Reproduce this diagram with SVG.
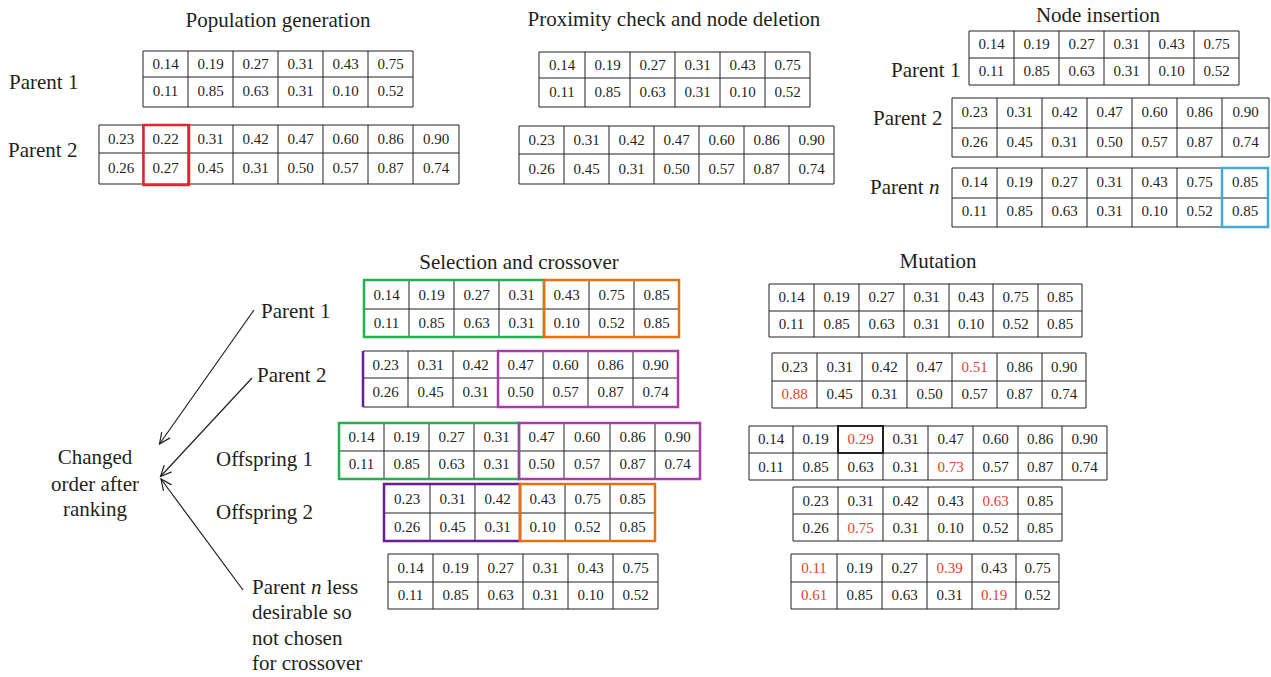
<svg xmlns="http://www.w3.org/2000/svg" width="1271" height="677" viewBox="0 0 1271 677">
<defs>
<style>
.g{fill:none;stroke:#231f20;stroke-width:1}
.t text{font-family:"Liberation Serif",serif;font-size:15px;fill:#231f20;text-anchor:middle}
text.r,.t text.r{fill:#e63c2e}
.lbl{font-family:"Liberation Serif",serif;font-size:21px;fill:#231f20}
.ttl{font-family:"Liberation Serif",serif;font-size:21px;fill:#231f20;text-anchor:middle}
.hl{fill:none;stroke-width:2.5}
.conn{fill:none;stroke:#231f20;stroke-width:1.2}
</style>
<marker id="ah" markerWidth="14" markerHeight="12" refX="12" refY="6" orient="auto" markerUnits="userSpaceOnUse">
<path d="M1,1 L12,6 L1,11" fill="none" stroke="#231f20" stroke-width="1.2"/>
</marker>
</defs>
<rect width="1271" height="677" fill="#fff"/>

<text class="ttl" x="278" y="27">Population generation</text>
<text class="ttl" x="674" y="26">Proximity check and node deletion</text>
<text class="ttl" x="1098" y="22">Node insertion</text>
<text class="ttl" x="519" y="269">Selection and crossover</text>
<text class="ttl" x="938" y="268">Mutation</text>

<text class="lbl" x="9" y="89">Parent 1</text>
<text class="lbl" x="8" y="157">Parent 2</text>
<text class="lbl" x="891" y="77">Parent 1</text>
<text class="lbl" x="873" y="125">Parent 2</text>
<text class="lbl" x="870" y="194">Parent <tspan font-style="italic">n</tspan></text>
<text class="lbl" x="261" y="318">Parent 1</text>
<text class="lbl" x="257" y="382">Parent 2</text>
<text class="lbl" x="216" y="466">Offspring 1</text>
<text class="lbl" x="216" y="519">Offspring 2</text>
<text class="lbl" x="252" y="594">Parent <tspan font-style="italic">n</tspan> less</text>
<text class="lbl" x="252" y="619">desirable so</text>
<text class="lbl" x="252" y="645">not chosen</text>
<text class="lbl" x="252" y="670">for crossover</text>
<text class="lbl" x="95" y="464" text-anchor="middle">Changed</text>
<text class="lbl" x="95" y="491" text-anchor="middle">order after</text>
<text class="lbl" x="95" y="516" text-anchor="middle">ranking</text>

<g id="pop-p1" class="t">
<path class="g" d="M143,51H413V107H143Z M143,77H413 M188,51V107 M233,51V107 M278,51V107 M323,51V107 M368,51V107"/>
<text x="165.5" y="69">0.14</text><text x="210.5" y="69">0.19</text><text x="255.5" y="69">0.27</text><text x="300.5" y="69">0.31</text><text x="345.5" y="69">0.43</text><text x="390.5" y="69">0.75</text>
<text x="165.5" y="96">0.11</text><text x="210.5" y="96">0.85</text><text x="255.5" y="96">0.63</text><text x="300.5" y="96">0.31</text><text x="345.5" y="96">0.10</text><text x="390.5" y="96">0.52</text>
</g>
<g id="pop-p2" class="t">
<path class="g" d="M99,125H459V184H99Z M99,153H459 M143,125V184 M188,125V184 M233,125V184 M278,125V184 M323,125V184 M368,125V184 M413,125V184"/>
<text x="121" y="144">0.23</text><text x="165.5" y="144">0.22</text><text x="210.5" y="144">0.31</text><text x="255.5" y="144">0.42</text><text x="300.5" y="144">0.47</text><text x="345.5" y="144">0.60</text><text x="390.5" y="144">0.86</text><text x="436" y="144">0.90</text>
<text x="121" y="173">0.26</text><text x="165.5" y="173">0.27</text><text x="210.5" y="173">0.45</text><text x="255.5" y="173">0.31</text><text x="300.5" y="173">0.50</text><text x="345.5" y="173">0.57</text><text x="390.5" y="173">0.87</text><text x="436" y="173">0.74</text>
<rect class="hl" x="143.5" y="125" width="45.5" height="60" stroke="#e0282c"/>
</g>

<g id="prox-p1" class="t">
<path class="g" d="M539,52H810V107H539Z M539,78H810 M585,52V107 M630,52V107 M675,52V107 M720,52V107 M765,52V107"/>
<text x="562" y="70">0.14</text><text x="607.5" y="70">0.19</text><text x="652.5" y="70">0.27</text><text x="697.5" y="70">0.31</text><text x="742.5" y="70">0.43</text><text x="787.5" y="70">0.75</text>
<text x="562" y="97">0.11</text><text x="607.5" y="97">0.85</text><text x="652.5" y="97">0.63</text><text x="697.5" y="97">0.31</text><text x="742.5" y="97">0.10</text><text x="787.5" y="97">0.52</text>
</g>
<g id="prox-p2" class="t">
<path class="g" d="M519,126H834V184H519Z M519,154H834 M564,126V184 M609,126V184 M654,126V184 M699,126V184 M744,126V184 M789,126V184"/>
<text x="541.5" y="145">0.23</text><text x="586.5" y="145">0.31</text><text x="631.5" y="145">0.42</text><text x="676.5" y="145">0.47</text><text x="721.5" y="145">0.60</text><text x="766.5" y="145">0.86</text><text x="811.5" y="145">0.90</text>
<text x="541.5" y="174">0.26</text><text x="586.5" y="174">0.45</text><text x="631.5" y="174">0.31</text><text x="676.5" y="174">0.50</text><text x="721.5" y="174">0.57</text><text x="766.5" y="174">0.87</text><text x="811.5" y="174">0.74</text>
</g>

<g id="ins-p1" class="t">
<path class="g" d="M969,31H1239V85H969Z M969,58H1239 M1014,31V85 M1059,31V85 M1104,31V85 M1149,31V85 M1194,31V85"/>
<text x="991.5" y="49">0.14</text><text x="1036.5" y="49">0.19</text><text x="1081.5" y="49">0.27</text><text x="1126.5" y="49">0.31</text><text x="1171.5" y="49">0.43</text><text x="1216.5" y="49">0.75</text>
<text x="991.5" y="76">0.11</text><text x="1036.5" y="76">0.85</text><text x="1081.5" y="76">0.63</text><text x="1126.5" y="76">0.31</text><text x="1171.5" y="76">0.10</text><text x="1216.5" y="76">0.52</text>
</g>
<g id="ins-p2" class="t">
<path class="g" d="M952,98H1269V157H952Z M952,128H1269 M997,98V157 M1042,98V157 M1087,98V157 M1132,98V157 M1177,98V157 M1222,98V157"/>
<text x="974.5" y="117">0.23</text><text x="1019.5" y="117">0.31</text><text x="1064.5" y="117">0.42</text><text x="1109.5" y="117">0.47</text><text x="1154.5" y="117">0.60</text><text x="1199.5" y="117">0.86</text><text x="1245.5" y="117">0.90</text>
<text x="974.5" y="147">0.26</text><text x="1019.5" y="147">0.45</text><text x="1064.5" y="147">0.31</text><text x="1109.5" y="147">0.50</text><text x="1154.5" y="147">0.57</text><text x="1199.5" y="147">0.87</text><text x="1245.5" y="147">0.74</text>
</g>
<g id="ins-pn" class="t">
<path class="g" d="M952,168H1268V227H952Z M952,198H1268 M997,168V227 M1042,168V227 M1087,168V227 M1132,168V227 M1177,168V227 M1222,168V227"/>
<text x="974.5" y="187">0.14</text><text x="1019.5" y="187">0.19</text><text x="1064.5" y="187">0.27</text><text x="1109.5" y="187">0.31</text><text x="1154.5" y="187">0.43</text><text x="1199.5" y="187">0.75</text><text x="1245" y="187">0.85</text>
<text x="974.5" y="216">0.11</text><text x="1019.5" y="216">0.85</text><text x="1064.5" y="216">0.63</text><text x="1109.5" y="216">0.31</text><text x="1154.5" y="216">0.10</text><text x="1199.5" y="216">0.52</text><text x="1245" y="216">0.85</text>
<rect class="hl" x="1222" y="168" width="46" height="59" stroke="#45a9d6"/>
</g>

<g id="sel-p1" class="t">
<path class="g" d="M364,280H679V337H364Z M364,309H679 M409,280V337 M454,280V337 M499,280V337 M544,280V337 M589,280V337 M634,280V337"/>
<text x="386.5" y="300">0.14</text><text x="431.5" y="300">0.19</text><text x="476.5" y="300">0.27</text><text x="521.5" y="300">0.31</text><text x="566.5" y="300">0.43</text><text x="611.5" y="300">0.75</text><text x="656.5" y="300">0.85</text>
<text x="386.5" y="328">0.11</text><text x="431.5" y="328">0.85</text><text x="476.5" y="328">0.63</text><text x="521.5" y="328">0.31</text><text x="566.5" y="328">0.10</text><text x="611.5" y="328">0.52</text><text x="656.5" y="328">0.85</text>
<rect class="hl" x="364" y="280" width="180" height="57" stroke="#22b14c"/>
<rect class="hl" x="544" y="280" width="135" height="57" stroke="#e8700e"/>
</g>
<g id="sel-p2" class="t">
<path class="g" d="M363,351H678V407H363Z M363,378H678 M408,351V407 M453,351V407 M498,351V407 M543,351V407 M588,351V407 M633,351V407"/>
<text x="385.5" y="370">0.23</text><text x="430.5" y="370">0.31</text><text x="475.5" y="370">0.42</text><text x="520.5" y="370">0.47</text><text x="565.5" y="370">0.60</text><text x="610.5" y="370">0.86</text><text x="655.5" y="370">0.90</text>
<text x="385.5" y="397">0.26</text><text x="430.5" y="397">0.45</text><text x="475.5" y="397">0.31</text><text x="520.5" y="397">0.50</text><text x="565.5" y="397">0.57</text><text x="610.5" y="397">0.87</text><text x="655.5" y="397">0.74</text>
<path class="hl" d="M363,351V407" stroke="#6a1b9a"/>
<rect class="hl" x="498" y="351" width="180" height="56" stroke="#a83caa"/>
</g>
<g id="off-1" class="t">
<path class="g" d="M339,423H700V479H339Z M339,451H700 M384,423V479 M429,423V479 M474,423V479 M519,423V479 M564,423V479 M610,423V479 M655,423V479"/>
<text x="361.5" y="442">0.14</text><text x="406.5" y="442">0.19</text><text x="451.5" y="442">0.27</text><text x="496.5" y="442">0.31</text><text x="541.5" y="442">0.47</text><text x="587" y="442">0.60</text><text x="632.5" y="442">0.86</text><text x="677.5" y="442">0.90</text>
<text x="361.5" y="469">0.11</text><text x="406.5" y="469">0.85</text><text x="451.5" y="469">0.63</text><text x="496.5" y="469">0.31</text><text x="541.5" y="469">0.50</text><text x="587" y="469">0.57</text><text x="632.5" y="469">0.87</text><text x="677.5" y="469">0.74</text>
<rect class="hl" x="339" y="423" width="180" height="56" stroke="#22b14c"/>
<rect class="hl" x="519" y="423" width="181" height="56" stroke="#a83caa"/>
</g>
<g id="off-2" class="t">
<path class="g" d="M384,484H655V541H384Z M384,513H655 M430,484V541 M475,484V541 M520,484V541 M565,484V541 M610,484V541"/>
<text x="407" y="504">0.23</text><text x="452.5" y="504">0.31</text><text x="497.5" y="504">0.42</text><text x="542.5" y="504">0.43</text><text x="587.5" y="504">0.75</text><text x="632.5" y="504">0.85</text>
<text x="407" y="532">0.26</text><text x="452.5" y="532">0.45</text><text x="497.5" y="532">0.31</text><text x="542.5" y="532">0.10</text><text x="587.5" y="532">0.52</text><text x="632.5" y="532">0.85</text>
<rect class="hl" x="384" y="484" width="136" height="57" stroke="#6a1b9a"/>
<rect class="hl" x="520" y="484" width="135" height="57" stroke="#e8700e"/>
</g>
<g id="sel-pn" class="t">
<path class="g" d="M388,554H658V609H388Z M388,582H658 M433,554V609 M478,554V609 M523,554V609 M568,554V609 M613,554V609"/>
<text x="410.5" y="573">0.14</text><text x="455.5" y="573">0.19</text><text x="500.5" y="573">0.27</text><text x="545.5" y="573">0.31</text><text x="590.5" y="573">0.43</text><text x="635.5" y="573">0.75</text>
<text x="410.5" y="600">0.11</text><text x="455.5" y="600">0.85</text><text x="500.5" y="600">0.63</text><text x="545.5" y="600">0.31</text><text x="590.5" y="600">0.10</text><text x="635.5" y="600">0.52</text>
</g>

<g id="mut-1" class="t">
<path class="g" d="M769,284H1082V337H769Z M769,311H1082 M814,284V337 M859,284V337 M904,284V337 M949,284V337 M993,284V337 M1038,284V337"/>
<text x="791.5" y="302">0.14</text><text x="836.5" y="302">0.19</text><text x="881.5" y="302">0.27</text><text x="926.5" y="302">0.31</text><text x="971" y="302">0.43</text><text x="1015.5" y="302">0.75</text><text x="1060" y="302">0.85</text>
<text x="791.5" y="329">0.11</text><text x="836.5" y="329">0.85</text><text x="881.5" y="329">0.63</text><text x="926.5" y="329">0.31</text><text x="971" y="329">0.10</text><text x="1015.5" y="329">0.52</text><text x="1060" y="329">0.85</text>
</g>
<g id="mut-2" class="t">
<path class="g" d="M772,353H1086V408H772Z M772,381H1086 M817,353V408 M862,353V408 M907,353V408 M952,353V408 M997,353V408 M1042,353V408"/>
<text x="794.5" y="372">0.23</text><text x="839.5" y="372">0.31</text><text x="884.5" y="372">0.42</text><text x="929.5" y="372">0.47</text><text class="r" x="974.5" y="372">0.51</text><text x="1019.5" y="372">0.86</text><text x="1064" y="372">0.90</text>
<text class="r" x="794.5" y="399">0.88</text><text x="839.5" y="399">0.45</text><text x="884.5" y="399">0.31</text><text x="929.5" y="399">0.50</text><text x="974.5" y="399">0.57</text><text x="1019.5" y="399">0.87</text><text x="1064" y="399">0.74</text>
</g>
<g id="mut-3" class="t">
<path class="g" d="M749,426H1107V480H749Z M749,453H1107 M793,426V480 M838,426V480 M883,426V480 M928,426V480 M973,426V480 M1018,426V480 M1062,426V480"/>
<text x="771" y="444">0.14</text><text x="815.5" y="444">0.19</text><text class="r" x="860.5" y="444">0.29</text><text x="905.5" y="444">0.31</text><text x="950.5" y="444">0.47</text><text x="995.5" y="444">0.60</text><text x="1040" y="444">0.86</text><text x="1084.5" y="444">0.90</text>
<text x="771" y="472">0.11</text><text x="815.5" y="472">0.85</text><text x="860.5" y="472">0.63</text><text x="905.5" y="472">0.31</text><text class="r" x="950.5" y="472">0.73</text><text x="995.5" y="472">0.57</text><text x="1040" y="472">0.87</text><text x="1084.5" y="472">0.74</text>
<rect x="838" y="426" width="45" height="27" fill="none" stroke="#231f20" stroke-width="2"/>
</g>
<g id="mut-4" class="t">
<path class="g" d="M793,487H1062V541H793Z M793,514H1062 M838,487V541 M883,487V541 M928,487V541 M973,487V541 M1018,487V541"/>
<text x="815.5" y="506">0.23</text><text x="860.5" y="506">0.31</text><text x="905.5" y="506">0.42</text><text x="950.5" y="506">0.43</text><text class="r" x="995.5" y="506">0.63</text><text x="1040" y="506">0.85</text>
<text x="815.5" y="533">0.26</text><text class="r" x="860.5" y="533">0.75</text><text x="905.5" y="533">0.31</text><text x="950.5" y="533">0.10</text><text x="995.5" y="533">0.52</text><text x="1040" y="533">0.85</text>
</g>
<g id="mut-5" class="t">
<path class="g" d="M791,554H1059V609H791Z M791,582H1059 M837,554V609 M882,554V609 M927,554V609 M972,554V609 M1016,554V609"/>
<text class="r" x="814" y="573">0.11</text><text x="859.5" y="573">0.19</text><text x="904.5" y="573">0.27</text><text class="r" x="949.5" y="573">0.39</text><text x="994" y="573">0.43</text><text x="1037.5" y="573">0.75</text>
<text class="r" x="814" y="600">0.61</text><text x="859.5" y="600">0.85</text><text x="904.5" y="600">0.63</text><text x="949.5" y="600">0.31</text><text class="r" x="994" y="600">0.19</text><text x="1037.5" y="600">0.52</text>
</g>

<g id="connectors">
<path class="conn" d="M254,310 L159.5,444" marker-end="url(#ah)"/>
<path class="conn" d="M252,378 L160.5,476.5" marker-end="url(#ah)"/>
<path class="conn" d="M243,590 L161,479" marker-end="url(#ah)"/>
</g>
</svg>
